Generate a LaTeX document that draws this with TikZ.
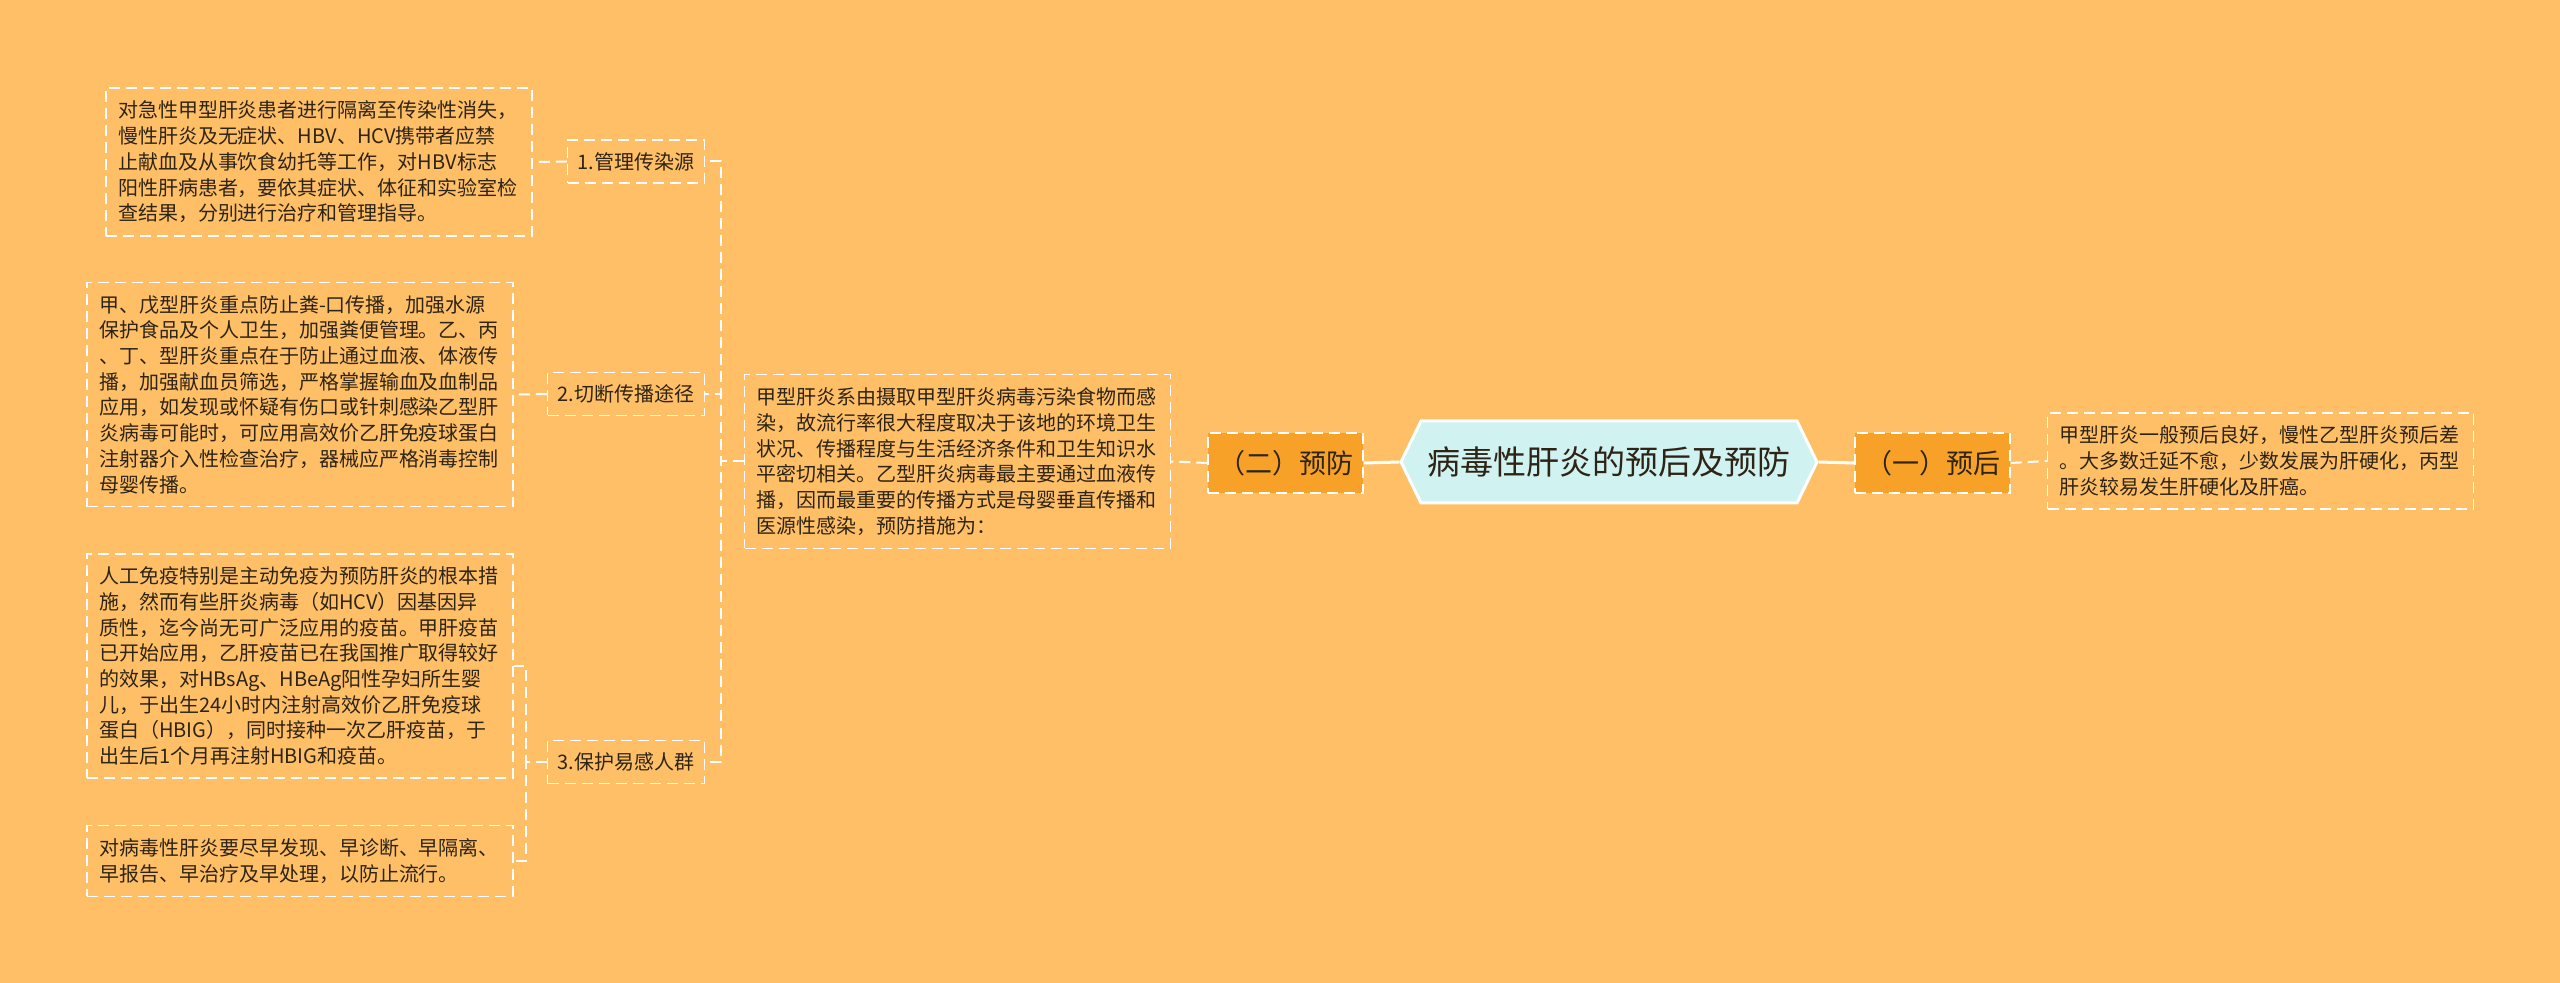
\documentclass[tikz,border=0pt]{standalone}
\usepackage{fontspec}
\newfontfamily\cjk{Noto Sans CJK SC}
\usepackage{tikz}
\usetikzlibrary{shapes.symbols}

\definecolor{bgorange}{HTML}{FFBF66}
\definecolor{deeporange}{HTML}{F8A128}
\definecolor{rootcyan}{HTML}{D0F2F0}
\definecolor{inkbrown}{HTML}{2E2416}

\tikzset{
  leaf/.style={draw=white, line width=0.75pt, dash pattern=on 5.5pt off 3pt, text=inkbrown,
    font=\cjk\fontsize{10pt}{12.85pt}\selectfont, text width=201pt, align=left,
    inner xsep=6pt, inner ysep=6.5pt},
  branch/.style={draw=white, line width=0.75pt, dash pattern=on 5.5pt off 3pt, text=inkbrown,
    font=\cjk\fontsize{10pt}{12pt}\selectfont, inner xsep=5pt, minimum height=21.5pt, anchor=east},
  topic/.style={draw=white, fill=deeporange, line width=0.75pt, dash pattern=on 5.5pt off 3pt,
    text=inkbrown, font=\cjk\fontsize{13.5pt}{15pt}\selectfont, inner xsep=2pt,
    minimum width=77.5pt, minimum height=30pt},
  centre/.style={shape=signal, signal to=west and east, signal pointer angle=128, draw=white,
    fill=rootcyan, line width=1.5pt, text=inkbrown, font=\cjk\fontsize{16.5pt}{18pt}\selectfont,
    inner xsep=2pt, minimum width=208pt, minimum height=41pt},
  link/.style={draw=white, line width=1pt, dash pattern=on 5.5pt off 3pt},
  trunk/.style={draw=white, line width=1.5pt}
}

\begin{document}
\begin{tikzpicture}[x=0.5pt, y=-0.5pt]
        \fill[bgorange] (0,0) rectangle (2560,983);
        \useasboundingbox (0,0) rectangle (2560,983);

        % Nodes
        \node[centre] (root) at (1609, 462) {病毒性肝炎的预后及预防};
        \node[topic] (prevent) at (1285.5, 463) {（二）预防};
        \node[topic] (outcome) at (1932.5, 463) {（一）预后};
        \node[leaf] (outleaf) at (2260.5, 461) {甲型肝炎一般预后良好，慢性乙型肝炎预后差\\。大多数迁延不愈，少数发展为肝硬化，丙型\\肝炎较易发生肝硬化及肝癌。};
        \node[leaf] (midleaf) at (957.5, 461.5) {甲型肝炎系由摄取甲型肝炎病毒污染食物而感\\染，故流行率很大程度取决于该地的环境卫生\\状况、传播程度与生活经济条件和卫生知识水\\平密切相关。乙型肝炎病毒最主要通过血液传\\播，因而最重要的传播方式是母婴垂直传播和\\医源性感染，预防措施为：};

        \node[branch] (source) at (705, 161.5) {1.管理传染源};
        \node[branch] (route) at (705, 394) {2.切断传播途径};
        \node[branch] (crowd) at (705, 762) {3.保护易感人群};

        \node[leaf] (isolate) at (319, 162) {对急性甲型肝炎患者进行隔离至传染性消失，\\慢性肝炎及无症状、HBV、HCV携带者应禁\\止献血及从事饮食幼托等工作，对HBV标志\\阳性肝病患者，要依其症状、体征和实验室检\\查结果，分别进行治疗和管理指导。};
        \node[leaf] (block) at (300, 394.5) {甲、戊型肝炎重点防止粪-口传播，加强水源\\保护食品及个人卫生，加强粪便管理。乙、丙\\、丁、型肝炎重点在于防止通过血液、体液传\\播，加强献血员筛选，严格掌握输血及血制品\\应用，如发现或怀疑有伤口或针刺感染乙型肝\\炎病毒可能时，可应用高效价乙肝免疫球蛋白\\注射器介入性检查治疗，器械应严格消毒控制\\母婴传播。};
        \node[leaf] (vaccine) at (300, 666) {人工免疫特别是主动免疫为预防肝炎的根本措\\施，然而有些肝炎病毒（如HCV）因基因异\\质性，迄今尚无可广泛应用的疫苗。甲肝疫苗\\已开始应用，乙肝疫苗已在我国推广取得较好\\的效果，对HBsAg、HBeAg阳性孕妇所生婴\\儿，于出生24小时内注射高效价乙肝免疫球\\蛋白（HBIG），同时接种一次乙肝疫苗，于\\出生后1个月再注射HBIG和疫苗。};
        \node[leaf] (early) at (300, 861) {对病毒性肝炎要尽早发现、早诊断、早隔离、\\早报告、早治疗及早处理，以防止流行。};

        % Lines
        \draw[trunk] (root.west) -- (prevent.east);
        \draw[trunk] (root.east) -- (outcome.west);
        \draw[link] (outcome.east) -- (outleaf.west);
        \draw[link] (prevent.west) -- (midleaf.east);
        \draw[link] (midleaf.west) -- ++(-23,0) |- (source.east);
        \draw[link] (midleaf.west) -- ++(-23,0) |- (route.east);
        \draw[link] (midleaf.west) -- ++(-23,0) |- (crowd.east);
        \draw[link] (source.west) -- (isolate.east);
        \draw[link] (route.west) -- (block.east);
        \draw[link] (crowd.west) -- ++(-21,0) |- (vaccine.east);
        \draw[link] (crowd.west) -- ++(-21,0) |- (early.east);
    \end{tikzpicture}
\end{document}
